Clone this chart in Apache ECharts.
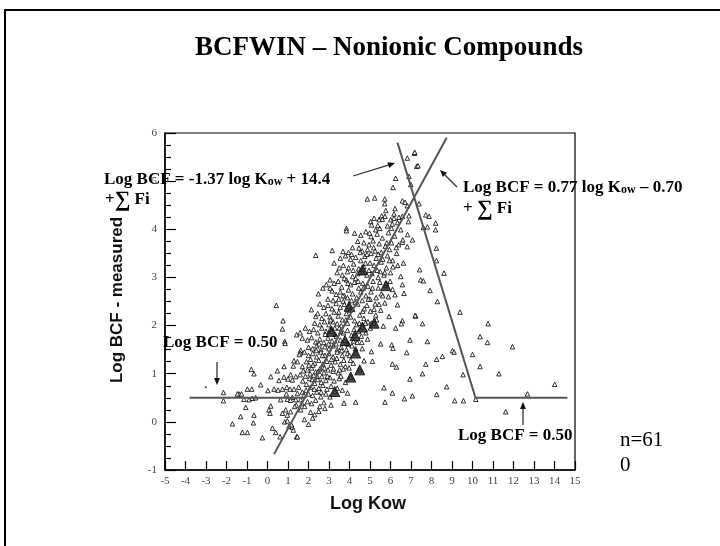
<!DOCTYPE html>
<html><head><meta charset="utf-8">
<script src="https://cdn.jsdelivr.net/npm/echarts/dist/echarts.min.js"></script>
<style>html,body{margin:0;padding:0;background:#fff}#c{width:720px;height:546px}</style>
</head><body><div id="c"></div>
<script>
// ---- data (Log Kow, Log BCF measured) ----
const upperPts = [[7.17,5.58],[7.28,5.31],[6.82,5.48],[7.18,5.60],[7.34,5.32],[6.25,5.06],[6.12,4.87],[6.90,5.10],[6.99,4.93],
[4.87,4.63],[5.23,4.65],[5.72,4.63],[5.72,4.53],[6.58,4.59],[6.71,4.56],[6.82,4.49],[7.39,4.53],[6.22,4.43],[6.17,4.32],[5.77,4.39],[5.57,4.28],[5.73,4.27],[5.60,4.21],[5.20,4.23],[5.44,4.20],[5.03,4.16],[6.01,4.20],[6.17,4.23],[6.41,4.25],[6.90,4.28],[6.87,4.16],[7.72,4.30],[7.80,4.05],[7.60,4.04],[5.85,4.07],[6.09,4.11],[6.34,4.14],[5.47,4.02],[5.28,3.99],[5.08,4.09],[3.85,4.02],[3.85,3.97],
[7.88,4.27],[8.20,4.13],[8.20,3.99],[8.24,3.61],[8.24,3.35],[8.61,3.09],[7.42,3.16],[7.47,2.95],[7.60,2.93],[7.93,2.73],[8.29,2.50],[7.23,2.20],
[6.58,4.27],[6.50,3.99],[6.83,3.89],[7.07,3.78],[6.58,3.73],[6.82,3.64],[6.63,3.30],[6.50,3.02],[6.58,2.85],[6.66,2.67],[6.22,2.64],[6.34,2.43],[5.93,2.19]];
const band3to4 = [[4.25,3.92],[4.55,3.88],[4.80,3.95],[5.05,3.85],[5.35,3.90],[5.60,3.82],[5.90,3.93],[6.20,3.86],[4.40,3.75],[4.70,3.72],[4.95,3.68],[5.15,3.76],[5.45,3.70],[5.75,3.65],[6.05,3.72],[6.40,3.68],[4.15,3.62],[4.46,3.61],[4.62,3.55],[4.88,3.58],[5.25,3.55],[5.55,3.52],[5.95,3.58],[6.30,3.50],[3.68,3.54],[3.16,3.56],[2.35,3.46],[3.95,3.52],[5.05,3.50],[6.60,3.78],
[3.55,3.40],[3.80,3.45],[4.05,3.38],[4.30,3.42],[4.55,3.35],[4.75,3.44],[5.00,3.30],[5.30,3.40],[5.55,3.32],[5.85,3.45],[6.10,3.35],[3.70,3.25],[3.95,3.20],[4.20,3.28],[4.45,3.18],[4.70,3.22],[4.95,3.15],[5.20,3.25],[5.50,3.12],[5.80,3.20],[3.40,3.10],[3.65,3.05],[3.90,3.12],[4.15,3.02],[4.40,3.08],[4.63,3.16],[4.63,3.10],[4.85,3.05],[5.10,3.08],[5.40,3.00],[5.68,3.05],[6.00,3.10],[6.35,3.25],[3.25,3.30],[4.10,3.48],[4.85,3.48],[5.40,3.48],[3.50,3.20]];
const band2to3 = [[2.87,2.85],[2.48,2.66],[3.05,2.95],[3.25,2.88],[3.45,2.92],[3.62,2.80],[3.85,2.95],[4.05,2.85],[4.25,2.90],[4.45,2.78],[4.65,2.88],[4.90,2.82],[5.15,2.92],[5.40,2.78],[5.77,2.83],[5.80,2.88],[3.15,2.72],[3.35,2.65],[3.55,2.70],[3.75,2.62],[3.95,2.74],[4.15,2.66],[4.35,2.58],[4.55,2.70],[4.80,2.62],[5.05,2.70],[5.30,2.58],[5.55,2.66],[2.95,2.55],[3.20,2.52],[3.48,2.55],[3.70,2.50],[3.90,2.58],[4.10,2.52],[4.62,2.52],[5.00,2.55],[5.90,2.60],[3.05,2.78],[4.30,2.98],[3.75,2.98],[6.10,2.75],[2.70,2.78],
[0.43,2.42],[2.14,2.33],[2.35,2.19],[2.55,2.45],[2.75,2.38],[2.95,2.42],[3.15,2.35],[3.35,2.46],[3.55,2.38],[3.75,2.44],[3.98,2.40],[4.15,2.34],[4.40,2.45],[4.65,2.30],[4.85,2.42],[5.44,2.44],[5.72,2.47],[5.20,2.34],[5.28,2.22],[5.07,2.05],[2.45,2.25],[2.65,2.15],[2.85,2.25],[3.05,2.18],[3.25,2.28],[3.45,2.20],[3.65,2.12],[3.85,2.25],[4.05,2.18],[4.25,2.10],[4.50,2.22],[4.70,2.15],[4.90,2.08],[2.30,2.05],[2.55,2.02],[2.78,2.08],[3.00,2.02],[3.20,2.08],[3.40,2.04],[3.60,2.00],[3.90,2.05],[4.35,2.02],[4.63,1.97],[5.20,2.05],[5.65,1.99],[6.25,1.95],[6.58,2.10],[6.53,2.04],[7.20,2.21],[7.56,2.04],[0.76,2.10]];
const band1to2 = [[0.73,1.93],[1.42,1.81],[1.59,1.85],[1.70,1.74],[0.84,1.67],[0.86,1.63],[1.62,1.49],[1.59,1.43],
[1.85,1.95],[2.05,1.88],[2.25,1.92],[2.45,1.85],[2.65,1.95],[2.85,1.88],[3.05,1.92],[3.13,1.88],[3.30,1.82],[3.50,1.95],[3.70,1.85],[3.90,1.90],[4.10,1.80],[4.27,1.79],[4.45,1.88],[4.80,1.85],[1.95,1.70],[2.15,1.75],[2.35,1.66],[2.55,1.72],[2.75,1.65],[2.95,1.74],[3.15,1.68],[3.35,1.62],[3.55,1.70],[3.78,1.69],[3.95,1.62],[4.20,1.68],[4.60,1.65],[2.00,1.55],[2.20,1.52],[2.40,1.58],[2.60,1.50],[2.80,1.56],[3.00,1.52],[3.20,1.58],[3.40,1.50],[3.60,1.55],[3.85,1.50],[4.30,1.52],[5.52,1.62],[5.07,1.46],[6.06,1.60],[6.12,1.53],[6.79,1.44],[6.95,1.70],[7.80,1.67],
[1.46,1.25],[1.29,1.27],[1.26,1.16],[1.70,1.15],[1.75,1.06],[1.55,1.40],[1.80,1.45],[2.00,1.38],[2.20,1.42],[2.40,1.35],[2.60,1.45],[2.80,1.38],[3.00,1.42],[3.20,1.35],[3.40,1.45],[3.65,1.38],[3.90,1.42],[4.30,1.43],[1.90,1.25],[2.10,1.30],[2.30,1.22],[2.50,1.28],[2.70,1.20],[2.90,1.26],[3.10,1.18],[3.30,1.25],[3.55,1.20],[3.80,1.15],[4.05,1.28],[4.50,1.08],[4.71,1.27],[5.12,1.26],[1.95,1.08],[2.15,1.12],[2.35,1.04],[2.55,1.10],[2.75,1.02],[2.95,1.08],[3.20,1.05],[3.45,1.02],[3.70,1.10],[4.06,0.93],[6.09,1.20],[6.29,1.14],[7.72,1.20],[7.56,1.00]];
const band0to1 = [[1.59,0.98],[1.38,0.94],[1.21,0.87],[1.00,0.89],[1.13,0.98],[0.80,0.93],[0.56,0.86],[0.48,1.06],[0.16,0.94],[0.81,1.15],[1.85,0.95],[2.05,0.90],[2.25,0.97],[2.45,0.88],[2.65,0.94],[2.85,0.86],[3.05,0.92],[3.25,0.85],[3.50,0.90],[3.80,0.82],[1.90,0.78],[2.10,0.72],[2.30,0.80],[2.50,0.70],[2.70,0.76],[2.90,0.68],[3.10,0.74],[3.28,0.63],[3.40,0.70],[3.65,0.66],[3.90,0.60],[0.02,0.65],[0.32,0.68],[0.51,0.66],[0.73,0.68],[0.94,0.72],[1.10,0.68],[1.29,0.68],[1.46,0.59],[1.70,0.62],[2.00,0.58],[2.20,0.55],[2.40,0.62],[2.60,0.52],[2.85,0.58],[3.05,0.52],[5.68,0.71],[6.09,0.60],[7.07,0.54],[6.68,0.48],[6.95,0.89],
[0.64,0.46],[0.97,0.47],[1.21,0.51],[1.38,0.46],[1.62,0.46],[1.81,0.32],[1.62,0.25],[0.16,0.33],[0.07,0.25],[0.12,0.18],[0.89,0.25],[0.73,0.18],[0.97,0.14],[1.13,0.21],[1.40,0.35],[1.95,0.42],[2.15,0.38],[2.35,0.45],[2.55,0.32],[2.75,0.40],[2.10,0.20],[2.30,0.15],[2.50,0.22],[2.80,0.28],[3.10,0.35],[3.73,0.39],[4.30,0.41],[5.73,0.41],[0.84,0.00],[0.97,0.02],[1.05,-0.09],[1.21,-0.11],[1.42,-0.31],[1.46,-0.31],[1.17,-0.06],[1.26,-0.17],[0.24,-0.13],[0.40,-0.22],[0.61,-0.31],[1.80,0.05],[2.00,-0.05],[2.20,0.08]];
const coreExtra = [[1.72,0.85],[1.88,0.66],[2.08,1.00],[2.28,0.68],[2.42,0.95],[2.62,0.82],[2.78,1.12],[2.92,0.95],[3.12,1.30],[3.22,1.10],[3.38,1.32],[3.52,1.08],[3.62,1.48],[3.72,1.28],[3.88,1.62],[4.00,1.38],[4.12,1.58],[4.22,1.92],[4.38,1.65],[4.48,2.05],[4.58,1.78],[4.72,2.35],[4.78,2.05],[4.92,2.55],[5.02,2.30],[5.12,2.78],[5.25,2.45],[5.35,3.15],[5.48,2.90],[5.62,3.38],[5.72,3.10],[5.82,3.72],[5.95,3.35],[6.05,4.02],[3.35,1.78],[3.48,2.28],[3.58,1.88],[3.68,2.62],[3.82,2.12],[3.92,2.88],[4.02,2.32],[4.18,3.15],[4.28,2.48],[4.42,2.92],[4.52,3.52],[4.68,2.78],[4.78,3.30],[4.98,3.92],[5.18,3.62],[5.38,4.08],[2.52,1.62],[2.68,1.38],[2.82,1.82],[2.98,1.62],[3.08,2.12],[3.28,1.95],[2.22,1.18],[2.38,1.48],[2.02,1.18],[1.68,0.38],[1.52,0.72],[1.32,0.32],[1.12,0.45],[0.92,0.58],[1.78,0.55],[2.62,0.62],[2.18,0.88],[2.48,1.05],[3.58,0.95],[3.98,1.12],[4.18,1.22],[4.62,1.52],[4.88,1.72],[5.02,1.95],[5.32,2.12],[5.52,2.32],[5.62,2.62],[5.98,2.92],[6.12,3.22],[6.28,3.62]];
const leftPts = [[-0.79,1.09],[-0.66,1.00],[-0.33,0.77],[-0.77,0.68],[-0.98,0.68],[-1.39,0.58],[-1.27,0.58],[-1.47,0.58],[-2.15,0.61],[-2.15,0.44],[-1.15,0.47],[-0.90,0.46],[-0.74,0.49],[-0.58,0.50],[-1.06,0.30],[-0.66,0.14],[-0.69,-0.02],[-1.31,0.11],[-1.71,-0.04],[-1.23,-0.22],[-0.98,-0.22],[-0.25,-0.33]];
const rightPts = [[9.39,2.28],[10.76,2.04],[10.37,1.77],[10.73,1.65],[11.95,1.56],[9.02,1.48],[9.10,1.45],[10.0,1.40],[8.53,1.36],[8.25,1.30],[10.37,1.15],[9.54,0.98],[11.29,1.00],[8.74,0.73],[8.25,0.57],[9.13,0.44],[9.56,0.44],[10.16,0.47],[12.68,0.58],[14.01,0.78],[11.62,0.21]];
const clusterPts = [[5.20,2.05],[4.63,1.97],[4.27,1.79],[4.30,1.43],[4.50,1.08],[4.06,0.93],[3.28,0.63],[3.78,1.69],[3.13,1.88],[3.98,2.40],[5.77,2.83],[4.63,3.16]];
const strayDot = [[-3.01,0.72]];
// fitted equations (segment end points)
const lineRising = [[0.32,-0.67],[8.74,5.90]];
const lineFalling = [[6.34,5.80],[10.16,0.48]];
const floorLeft = [[-3.80,0.50],[1.85,0.50]];
const floorRight = [[10.16,0.50],[14.63,0.50]];
const xRange = [-5, 15];
const yRange = [-1, 6];

const chart = echarts.init(document.getElementById('c'), null, {renderer:'canvas'});
const allPts = [].concat(upperPts, band3to4, band2to3, band1to2, band0to1, coreExtra, leftPts, rightPts);
const lineStyle = {color:'#555', width:2};
const mkLine = d => ({type:'line', data:d, symbol:'none', lineStyle:lineStyle, silent:true, z:3, animation:false});

function arrow(x1,y1,x2,y2){
  const a = Math.atan2(y2-y1, x2-x1), L=7, W=3;
  const bx = x2 - L*Math.cos(a), by = y2 - L*Math.sin(a);
  const px = -Math.sin(a)*W, py = Math.cos(a)*W;
  return [
    {type:'line', shape:{x1:x1,y1:y1,x2:bx,y2:by}, style:{stroke:'#333', lineWidth:1.3}},
    {type:'polygon', shape:{points:[[x2,y2],[bx+px,by+py],[bx-px,by-py]]}, style:{fill:'#111'}}
  ];
}
const serif = '"Liberation Serif","Times New Roman",serif';
const sans = '"Liberation Sans",Arial,sans-serif';
const eqRich = {
  a:{fontFamily:serif, fontWeight:'bold', fontSize:17, color:'#000'},
  s:{fontFamily:serif, fontWeight:'bold', fontSize:12, color:'#000', padding:[5,0,0,0]},
  g:{fontFamily:serif, fontWeight:'bold', fontSize:22, color:'#000'}
};
function eqText(x,y,txt){
  return {type:'text', left:x, top:y, style:{text:txt, rich:eqRich, textVerticalAlign:'top'}};
}

const option = {
  animation:false,
  grid:{left:165, right:145, top:133, bottom:76, show:true, borderColor:'#000', borderWidth:1.2, backgroundColor:'transparent'},
  xAxis:{type:'value', min:xRange[0], max:xRange[1], interval:1,
    axisLine:{onZero:false, lineStyle:{color:'#000', width:1.5}},
    axisTick:{inside:true, length:9, lineStyle:{color:'#000', width:1.2}},
    axisLabel:{fontFamily:serif, fontSize:11, color:'#444', margin:6},
    splitLine:{show:false}},
  yAxis:{type:'value', min:yRange[0], max:yRange[1], interval:1,
    axisLine:{onZero:false, lineStyle:{color:'#000', width:1.5}},
    axisTick:{inside:true, length:11, lineStyle:{color:'#000', width:1.2}},
    minorTick:{show:true, splitNumber:4, length:6, lineStyle:{color:'#000', width:1.2}},
    axisLabel:{fontFamily:serif, fontSize:11, color:'#444', margin:8},
    splitLine:{show:false}, minorSplitLine:{show:false}},
  series:[
    {type:'scatter', data:allPts, symbol:'triangle', symbolSize:4.5, z:2,
      itemStyle:{color:'#fff', borderColor:'#000', borderWidth:1}},
    {type:'scatter', data:clusterPts, symbol:'triangle', symbolSize:10, z:2,
      itemStyle:{color:'#222', borderColor:'#000', borderWidth:1}},
    {type:'scatter', data:strayDot, symbol:'circle', symbolSize:2, z:2, itemStyle:{color:'#000'}},
    mkLine(lineRising), mkLine(lineFalling), mkLine(floorLeft), mkLine(floorRight)
  ],
  graphic:[
    {type:'rect', shape:{x:5, y:10, width:800, height:700}, style:{fill:'none', stroke:'#000', lineWidth:2}, z:-10, silent:true},
    {type:'text', x:389, y:48, style:{text:'BCFWIN – Nonionic Compounds', fontFamily:serif, fontWeight:'bold', fontSize:27, fill:'#000', textAlign:'center', textVerticalAlign:'middle'}},
    {type:'text', x:117, y:300, rotation:Math.PI/2, style:{text:'Log BCF - measured', fontFamily:sans, fontWeight:'bold', fontSize:17, fill:'#111', textAlign:'center', textVerticalAlign:'middle'}},
    {type:'text', x:368, y:504, style:{text:'Log Kow', fontFamily:sans, fontWeight:'bold', fontSize:18, fill:'#111', textAlign:'center', textVerticalAlign:'middle'}},
    eqText(104, 171, '{a|Log BCF = -1.37 log K}{s|ow}{a| + 14.4}'),
    eqText(105, 189, '{a|+}{g|∑}{a| Fi}'),
    eqText(463, 179, '{a|Log BCF = 0.77 log K}{s|ow}{a| – 0.70}'),
    eqText(463, 198, '{a|+ }{g|∑}{a| Fi}'),
    eqText(163, 334, '{a|Log BCF = 0.50}'),
    eqText(458, 427, '{a|Log BCF = 0.50}'),
    {type:'text', x:620, y:440, style:{text:'n=61', fontFamily:serif, fontSize:21, fill:'#000', textVerticalAlign:'middle'}},
    {type:'text', x:620, y:465, style:{text:'0', fontFamily:serif, fontSize:21, fill:'#000', textVerticalAlign:'middle'}}
  ].concat(arrow(353,176,395,163), arrow(457,187,440,170), arrow(217,362,217,385), arrow(523,425,523,402))
};
chart.setOption(option);
</script></body></html>
